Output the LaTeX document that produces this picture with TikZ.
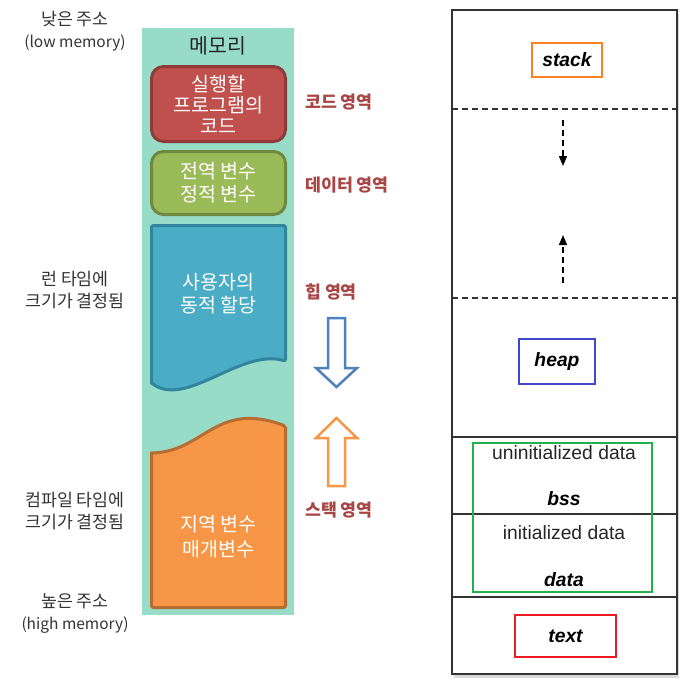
\documentclass[tikz,border=0pt]{standalone}
\usepackage{fontspec}
\setmainfont{Liberation Sans}
\newfontfamily\kr{Noto Sans CJK KR}
\usetikzlibrary{shadows,arrows.meta}
\definecolor{mint}{HTML}{96DCC7}
\definecolor{redfill}{HTML}{C0504D}
\definecolor{redline}{HTML}{8E3B39}
\definecolor{greenfill}{HTML}{9BBB59}
\definecolor{greenline}{HTML}{71893F}
\definecolor{bluefill}{HTML}{4BACC6}
\definecolor{blueline}{HTML}{31859C}
\definecolor{orangefill}{HTML}{F79646}
\definecolor{orangeline}{HTML}{B66D31}
\definecolor{labelred}{HTML}{A84545}
\definecolor{arrowblue}{HTML}{4F81BD}
\definecolor{boxorange}{HTML}{FF7F27}
\definecolor{boxblue}{HTML}{3F48CC}
\definecolor{boxgreen}{HTML}{22B14C}
\definecolor{boxred}{HTML}{ED1C24}
\definecolor{textgray}{HTML}{333333}
\newcommand{\latinsmall}{\fontsize{15.5}{22}\selectfont}
\begin{document}
\begin{tikzpicture}[x=1pt,y=-1pt,
  sidelabel/.style={font=\kr\fontsize{17.3}{22}\selectfont, text=textgray, align=center, inner sep=0pt},
  arealabel/.style={font=\kr\fontsize{17.3}{20}\selectfont\bfseries, text=labelred, anchor=west, inner sep=0pt},
  whitetext/.style={font=\kr\fontsize{19.5}{21}\selectfont, text=white, align=center, inner sep=0pt},
  segtext/.style={font=\fontsize{19.3}{22}\selectfont, text=black!85, inner sep=0pt},
  segname/.style={font=\fontsize{19.3}{22}\selectfont\bfseries\itshape, text=black, inner sep=0pt},
  markbox/.style={draw=#1, line width=2.5pt, inner sep=0pt},
  dashline/.style={line width=1.5pt, dash pattern=on 6pt off 4pt, draw=textgray},
  dasharrow/.style={line width=1.5pt, dash pattern=on 6pt off 4pt, draw=black, -{Triangle[length=10pt,width=8pt]}},
  solidline/.style={line width=1.5pt, draw=textgray}
]
\useasboundingbox (0,0) rectangle (695,689);

% ---------- left: memory column ----------
\fill[mint] (142,28) rectangle (294,615);
\node[font=\kr\fontsize{20.5}{22}\selectfont, text=black!85, inner sep=0pt] (mem) at (218,46) {메모리};

\node[draw=redline, fill=redfill, line width=3pt, rounded corners=12pt,
      minimum width=134pt, minimum height=75pt, whitetext] (code) at (218.5,104)
      {실행할\\프로그램의\\코드};
\node[draw=greenline, fill=greenfill, line width=3pt, rounded corners=12pt,
      minimum width=134pt, minimum height=63pt, whitetext, font=\kr\fontsize{19.5}{23}\selectfont] (global) at (218.5,183)
      {전역 변수\\정적 변수};

\draw[draw=blueline, fill=bluefill, line width=3pt, rounded corners=2pt]
  (151.5,225.5) -- (285.5,225.5) -- (285.5,361)
  [sharp corners] .. controls (240,348) and (185,410) .. (151.5,383) [rounded corners=2pt] -- cycle;
\node[whitetext, font=\kr\fontsize{19.5}{23}\selectfont] (heapt) at (218.5,293.5) {사용자의\\동적 할당};

\draw[draw=orangeline, fill=orangefill, line width=3pt, rounded corners=2pt]
  (151.5,607.5) -- (285.5,607.5) -- (285.5,426)
  [sharp corners] .. controls (215,400) and (205,452) .. (151.5,453) [rounded corners=2pt] -- cycle;
\node[whitetext, font=\kr\fontsize{19.5}{25}\selectfont] (stackt) at (218.5,537) {지역 변수\\매개변수};

% left side labels
\node[sidelabel] (low) at (75,31) {낮은 주소\\{\latinsmall(low memory)}};
\node[sidelabel] (run) at (75,290) {런 타임에\\크기가 결정됨};
\node[sidelabel] (comp) at (75,511) {컴파일 타임에\\크기가 결정됨};
\node[sidelabel] (high) at (75,613) {높은 주소\\{\latinsmall(high memory)}};

% right side labels
\node[arealabel] (codeA) at (305,102) {코드 영역};
\node[arealabel] (dataA) at (305,185) {데이터 영역};
\node[arealabel] (heapA) at (305,292) {힙 영역};
\node[arealabel] (stackA) at (305,510) {스택 영역};

% block arrows
\draw[arrowblue, fill=white, line width=2.5pt, line join=miter]
  (328,318) -- (345,318) -- (345,368) -- (357,368) -- (336.5,387) -- (316,368) -- (328,368) -- cycle;
\draw[orangefill, fill=white, line width=2.5pt, line join=miter]
  (328,486) -- (345,486) -- (345,438) -- (357,438) -- (336.5,418) -- (316,438) -- (328,438) -- cycle;

% ---------- right: process memory layout ----------
\node[draw=textgray, fill=white, line width=2pt, minimum width=225pt, minimum height=664pt,
      drop shadow={shadow xshift=2pt, shadow yshift=-4pt, opacity=0.3}] (frame) at (564.5,342) {};

\coordinate (d1l) at (452,109);  \coordinate (d1r) at (677,109);
\coordinate (d2l) at (452,298);  \coordinate (d2r) at (677,298);
\coordinate (s1l) at (452,437);  \coordinate (s1r) at (677,437);
\coordinate (s2l) at (452,514);  \coordinate (s2r) at (677,514);
\coordinate (s3l) at (452,597);  \coordinate (s3r) at (677,597);
\draw[dashline] (d1l) -- (d1r);
\draw[dashline] (d2l) -- (d2r);
\draw[solidline] (s1l) -- (s1r);
\draw[solidline] (s2l) -- (s2r);
\draw[solidline] (s3l) -- (s3r);

\coordinate (a1s) at (563,120); \coordinate (a1e) at (563,166);
\coordinate (a2s) at (563,283); \coordinate (a2e) at (563,235);
\draw[dasharrow] (a1s) -- (a1e);
\draw[dasharrow] (a2s) -- (a2e);

\node[markbox=boxorange, minimum width=70pt, minimum height=34pt, segname] (stack) at (567,60) {stack};
\node[markbox=boxblue, minimum width=76pt, minimum height=45pt, segname] (heap) at (557,361.5) {heap};
\node[markbox=boxgreen, minimum width=179pt, minimum height=149pt] (databox) at (562.5,517.5) {};
\node[segtext] (uninit) at (564,453) {uninitialized data};
\node[segname] (bss) at (564,499) {bss};
\node[segtext] (init) at (564,533) {initialized data};
\node[segname] (data) at (564,580) {data};
\node[markbox=boxred, minimum width=101pt, minimum height=42pt, segname] (text) at (565.5,636) {text};
\end{tikzpicture}
\end{document}
